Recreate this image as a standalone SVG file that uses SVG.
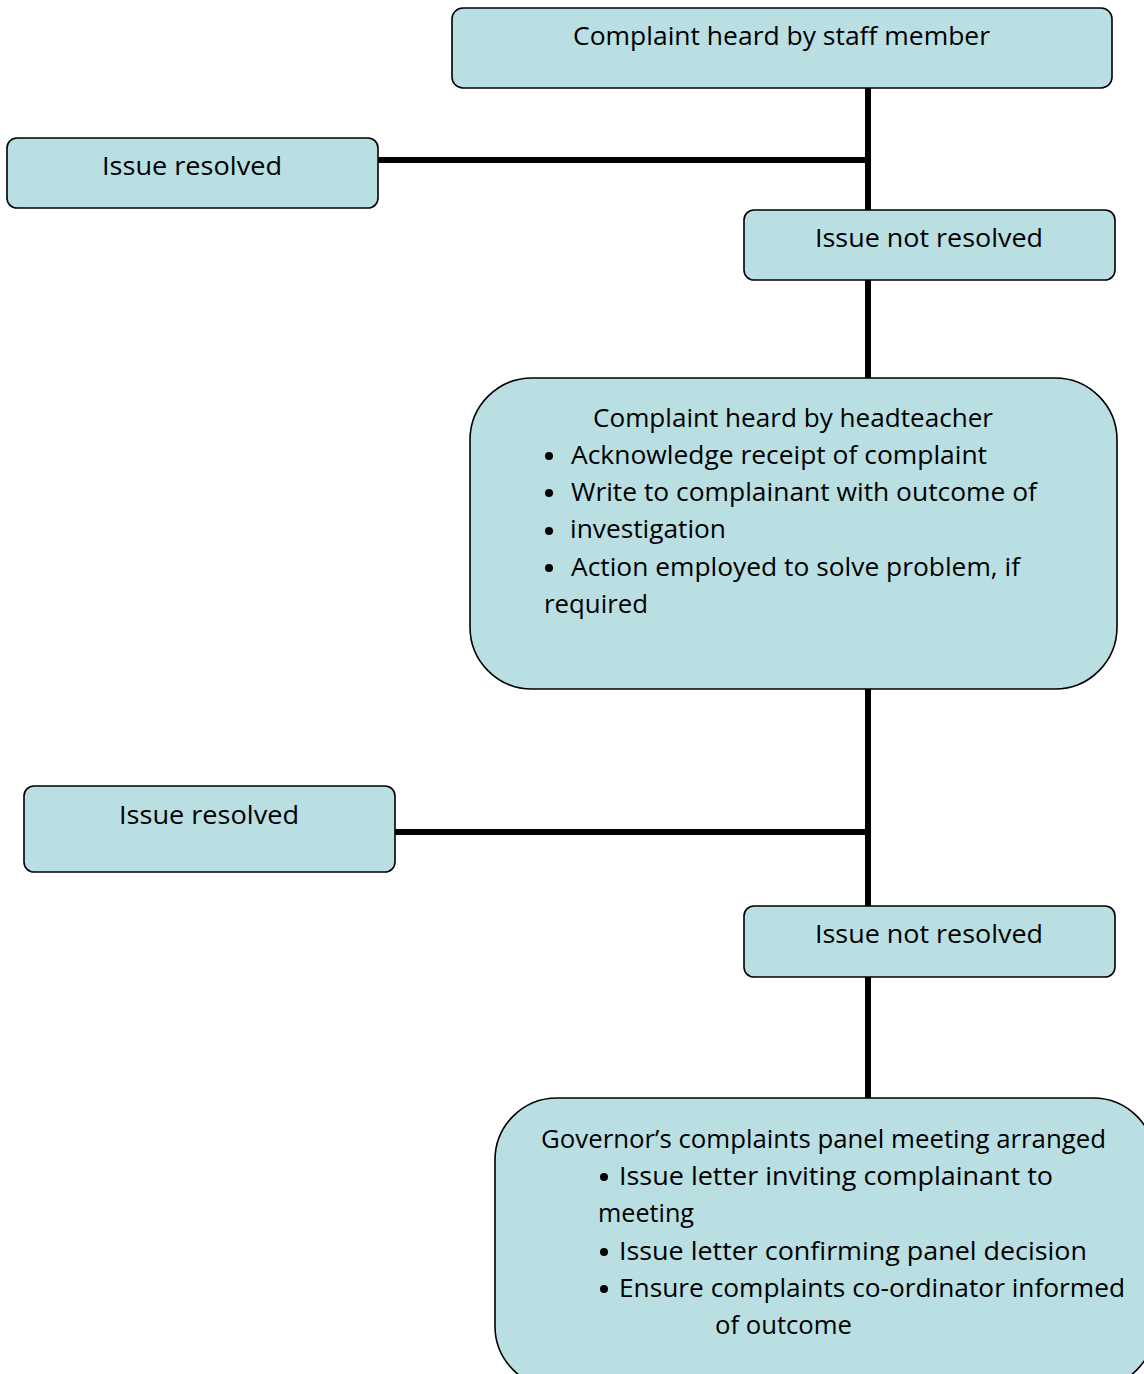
<svg xmlns="http://www.w3.org/2000/svg" width="1144" height="1374" viewBox="0 0 1144 1374">
<style>
.box{fill:#B9DFE3;stroke:#000;stroke-width:1.6}
.t{font-family:"Open Sans","DejaVu Sans",sans-serif;font-size:26px;fill:#000}
.c{text-anchor:middle}
.ln{stroke:#000;stroke-width:6;fill:none}
</style>
<rect width="1144" height="1374" fill="#fff"/>
<g id="connectors">
<line class="ln" x1="868" y1="88" x2="868" y2="210"/>
<line class="ln" x1="378" y1="160" x2="868" y2="160"/>
<line class="ln" x1="868" y1="280" x2="868" y2="378"/>
<line class="ln" x1="868" y1="689" x2="868" y2="906"/>
<line class="ln" x1="395" y1="832" x2="868" y2="832"/>
<line class="ln" x1="868" y1="977" x2="868" y2="1098"/>
</g>
<g id="n1">
<rect class="box" x="452" y="8" width="660" height="80" rx="11"/>
<text class="t" x="573" y="45" textLength="417" lengthAdjust="spacingAndGlyphs">Complaint heard by staff member</text>
</g>
<g id="n2">
<rect class="box" x="7" y="138" width="371" height="70" rx="10"/>
<text class="t" x="102" y="175" textLength="180" lengthAdjust="spacingAndGlyphs">Issue resolved</text>
</g>
<g id="n3">
<rect class="box" x="744" y="210" width="371" height="70" rx="10"/>
<text class="t" x="815" y="247" textLength="228" lengthAdjust="spacingAndGlyphs">Issue not resolved</text>
</g>
<g id="n4">
<rect class="box" x="470" y="378" width="647" height="311" rx="62"/>
<text class="t" x="593" y="427" textLength="400" lengthAdjust="spacingAndGlyphs">Complaint heard by headteacher</text>
<circle cx="549" cy="456" r="4"/>
<text class="t" x="571" y="464" textLength="416" lengthAdjust="spacingAndGlyphs">Acknowledge receipt of complaint</text>
<circle cx="549" cy="493" r="4"/>
<text class="t" x="571" y="501" textLength="466" lengthAdjust="spacingAndGlyphs">Write to complainant with outcome of</text>
<circle cx="549" cy="531" r="4"/>
<text class="t" x="570" y="538" textLength="156" lengthAdjust="spacingAndGlyphs">investigation</text>
<circle cx="549" cy="568" r="4"/>
<text class="t" x="571" y="576" textLength="449" lengthAdjust="spacingAndGlyphs">Action employed to solve problem, if</text>
<text class="t" x="544" y="613" textLength="104" lengthAdjust="spacingAndGlyphs">required</text>
</g>
<g id="n5">
<rect class="box" x="24" y="786" width="371" height="86" rx="10"/>
<text class="t" x="119" y="824" textLength="180" lengthAdjust="spacingAndGlyphs">Issue resolved</text>
</g>
<g id="n6">
<rect class="box" x="744" y="906" width="371" height="71" rx="10"/>
<text class="t" x="815" y="943" textLength="228" lengthAdjust="spacingAndGlyphs">Issue not resolved</text>
</g>
<g id="n7">
<rect class="box" x="495" y="1098" width="660" height="290" rx="62"/>
<text class="t" x="541" y="1148" textLength="565" lengthAdjust="spacingAndGlyphs">Governor’s complaints panel meeting arranged</text>
<circle cx="604" cy="1177" r="4"/>
<text class="t" x="619" y="1185" textLength="434" lengthAdjust="spacingAndGlyphs">Issue letter inviting complainant to</text>
<text class="t" x="598" y="1222" textLength="96" lengthAdjust="spacingAndGlyphs">meeting</text>
<circle cx="604" cy="1252" r="4"/>
<text class="t" x="619" y="1260" textLength="468" lengthAdjust="spacingAndGlyphs">Issue letter confirming panel decision</text>
<circle cx="604" cy="1289" r="4"/>
<text class="t" x="619" y="1297" textLength="506" lengthAdjust="spacingAndGlyphs">Ensure complaints co-ordinator informed</text>
<text class="t" x="715" y="1334" textLength="137" lengthAdjust="spacingAndGlyphs">of outcome</text>
</g>
</svg>
